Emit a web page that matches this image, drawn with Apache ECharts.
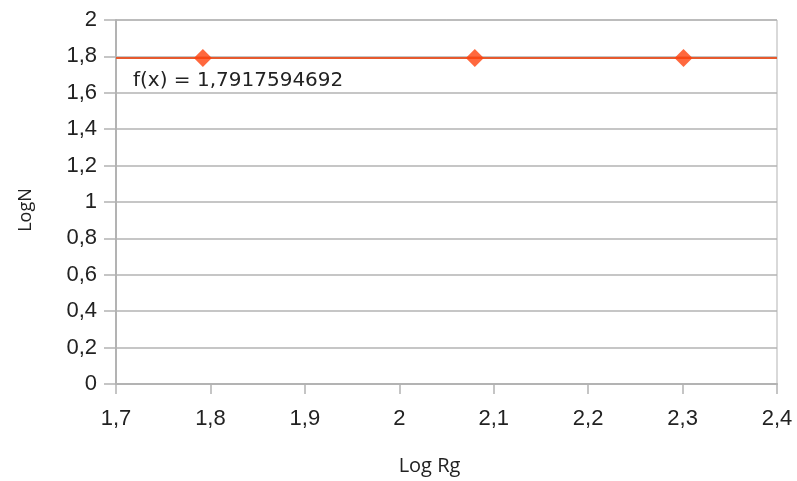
<!DOCTYPE html>
<html>
<head>
<meta charset="utf-8">
<script src="https://cdn.jsdelivr.net/npm/echarts@6/dist/echarts.min.js"></script>
<style>
  html, body { margin: 0; padding: 0; background: #fff; }
  #chart { width: 797px; height: 481px; }
</style>
</head>
<body>
<div id="chart"></div>
<script>
// Measured points: log of radius of gyration vs log of N
const logRg = [1.792, 2.080, 2.301];
const logN = [1.7918, 1.7918, 1.7918];
// Constant fit through the points
const fitValue = 1.7917594692;
const fitRange = [1.7, 2.4];
const xTicks = { min: 1.7, max: 2.4, step: 0.1 };
const yTicks = { min: 0, max: 2, step: 0.2 };

const comma = v => String(+v.toFixed(4)).replace('.', ',');
const grey = '#b3b3b3';
const tickFont = '"Liberation Sans", Arial, sans-serif';
const nameFont = '"Open Sans", sans-serif';

const chart = echarts.init(document.getElementById('chart'));
chart.setOption({
  animation: false,
  grid: { left: 116, right: 20, top: 20, bottom: 97, show: true, borderColor: grey, borderWidth: 1 },
  xAxis: {
    type: 'value', min: xTicks.min, max: xTicks.max, interval: xTicks.step,
    name: 'Log Rg', nameLocation: 'middle', nameGap: 72,
    nameTextStyle: { fontFamily: nameFont, fontSize: 20, color: '#222', padding: [0, 34, 0, 0] },
    axisLine: { show: true, lineStyle: { color: grey, width: 2 } },
    axisTick: { show: true, length: 10, lineStyle: { color: grey, width: 1.5 } },
    axisLabel: { formatter: comma, fontFamily: tickFont, fontSize: 22, color: '#222', margin: 24 },
    splitLine: { show: false }
  },
  yAxis: {
    type: 'value', min: yTicks.min, max: yTicks.max, interval: yTicks.step,
    name: 'LogN', nameLocation: 'middle', nameGap: 81,
    nameTextStyle: { fontFamily: nameFont, fontSize: 18, color: '#222', padding: [0, 16, 0, 0] },
    axisLine: { show: true, lineStyle: { color: grey, width: 2 } },
    axisTick: { show: true, length: 12, lineStyle: { color: grey, width: 1.5 } },
    axisLabel: { formatter: comma, fontFamily: tickFont, fontSize: 22, color: '#222', margin: 19 },
    splitLine: { show: true, lineStyle: { color: grey, width: 1.5 } }
  },
  series: [
    {
      name: 'fit', type: 'line', data: fitRange.map(x => [x, fitValue]),
      showSymbol: false, symbol: 'none',
      lineStyle: { color: '#e65a2e', width: 2 },
      z: 2
    },
    {
      name: 'points', type: 'scatter', data: logRg.map((x, i) => [x, logN[i]]),
      symbol: 'diamond', symbolSize: 18,
      itemStyle: { color: '#ff420e' },
      z: 3
    }
  ],
  graphic: [
    {
      type: 'text', left: 133, top: 71,
      style: { text: 'f(x) = 1,7917594692', font: '20px "DejaVu Sans", sans-serif', fill: '#222' }
    }
  ]
});
</script>
</body>
</html>
